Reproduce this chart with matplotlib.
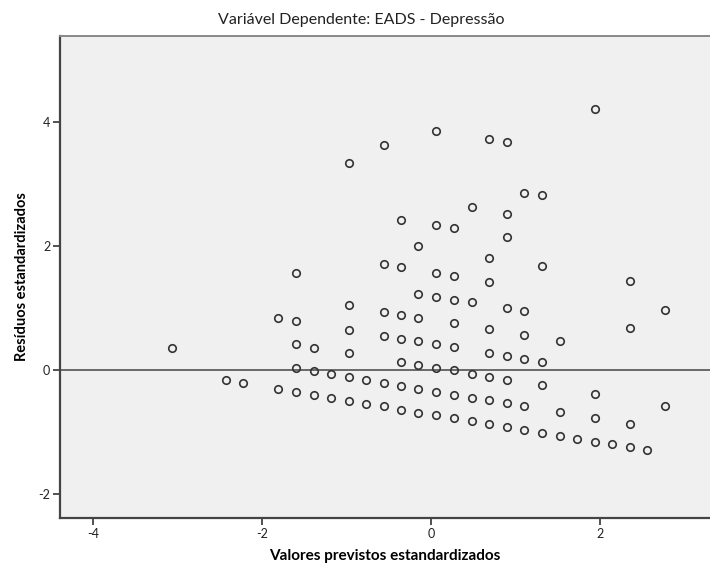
import matplotlib as mpl
import matplotlib.pyplot as plt

mpl.rcParams['font.family'] = "Lato"
mpl.rcParams['font.size'] = 9.0

# standardized predicted values and standardized residuals, grouped by predicted column
pred = ([-3.06] + [-2.43] + [-2.23] + [-1.81] * 2 + [-1.60] * 5 + [-1.39] * 3
        + [-1.18] * 2 + [-0.97] * 6 + [-0.77] * 2 + [-0.56] * 6 + [-0.35] * 7
        + [-0.15] * 7 + [0.06] * 8 + [0.27] * 8 + [0.48] * 5 + [0.69] * 8
        + [0.90] * 8 + [1.10] * 6 + [1.31] * 5 + [1.52] * 3 + [1.73] + [1.94] * 4
        + [2.14] + [2.35] * 4 + [2.56] + [2.77] * 2)
resid = [
    0.35,
    -0.17,
    -0.21,
    0.84, -0.31,
    1.56, 0.79, 0.41, 0.03, -0.35,
    0.36, -0.02, -0.40,
    -0.07, -0.45,
    3.33, 1.04, 0.65, 0.27, -0.12, -0.50,
    -0.16, -0.55,
    3.62, 1.70, 0.94, 0.55, -0.21, -0.59,
    2.42, 1.66, 0.89, 0.50, 0.12, -0.26, -0.64,
    1.99, 1.23, 0.84, 0.46, 0.08, -0.31, -0.69,
    3.86, 2.33, 1.56, 1.18, 0.41, 0.03, -0.35, -0.73,
    2.28, 1.52, 1.13, 0.75, 0.37, -0.01, -0.40, -0.78,
    2.62, 1.09, -0.06, -0.45, -0.83,
    3.72, 1.81, 1.42, 0.66, 0.27, -0.11, -0.49, -0.87,
    3.68, 2.52, 2.14, 0.99, 0.23, -0.16, -0.54, -0.92,
    2.86, 0.95, 0.56, 0.18, -0.59, -0.97,
    2.82, 1.67, 0.13, -0.25, -1.02,
    0.47, -0.68, -1.06,
    -1.11,
    4.20, -0.39, -0.77, -1.16,
    -1.20,
    1.43, 0.67, -0.87, -1.25,
    -1.30,
    0.96, -0.58,
]

x_ticks = [-4, -2, 0, 2]
y_ticks = [-2, 0, 2, 4]


def plot():
    fig = plt.figure(figsize=(7.1, 5.68), dpi=100, facecolor="white")
    ax = fig.add_axes([60 / 710, 1 - 518 / 568, 650 / 710, (518 - 35.7) / 568])
    ax.set_facecolor("#F0F0F0")

    ax.axhline(0, color="#444444", lw=1.1, zorder=1)
    ax.plot(pred, resid, linestyle="none", marker="o", markersize=5.4,
            markerfacecolor="none", markeredgecolor="#333333",
            markeredgewidth=1.2, zorder=2)

    ax.set_xlim(-4.39, 3.30)
    ax.set_ylim(-2.39, 5.39)
    ax.set_xticks(x_ticks)
    ax.set_yticks(y_ticks)
    ax.set_xticklabels([str(t) for t in x_ticks])
    ax.set_yticklabels([str(t) for t in y_ticks])
    ax.tick_params(direction="out", length=5, width=1.2, color="#333333",
                   labelcolor="#222222", labelsize=9, pad=2)

    for side in ("left", "bottom"):
        ax.spines[side].set_color("#444444")
        ax.spines[side].set_linewidth(1.6)
    ax.spines["top"].set_color("#888888")
    ax.spines["top"].set_linewidth(1.4)
    ax.spines["right"].set_visible(False)

    ax.set_xlabel("Valores previstos estandardizados", fontsize=11,
                  fontweight="bold", labelpad=7)
    ax.set_ylabel("Resíduos estandardizados", fontsize=10.5,
                  fontweight="bold", labelpad=7)
    fig.text(361 / 710, 1 - 20 / 568, "Variável Dependente: EADS - Depressão",
             ha="center", va="center", fontsize=11.5, color="#222222")

    plt.savefig("out.png")


if __name__ == '__main__':
    plot()
